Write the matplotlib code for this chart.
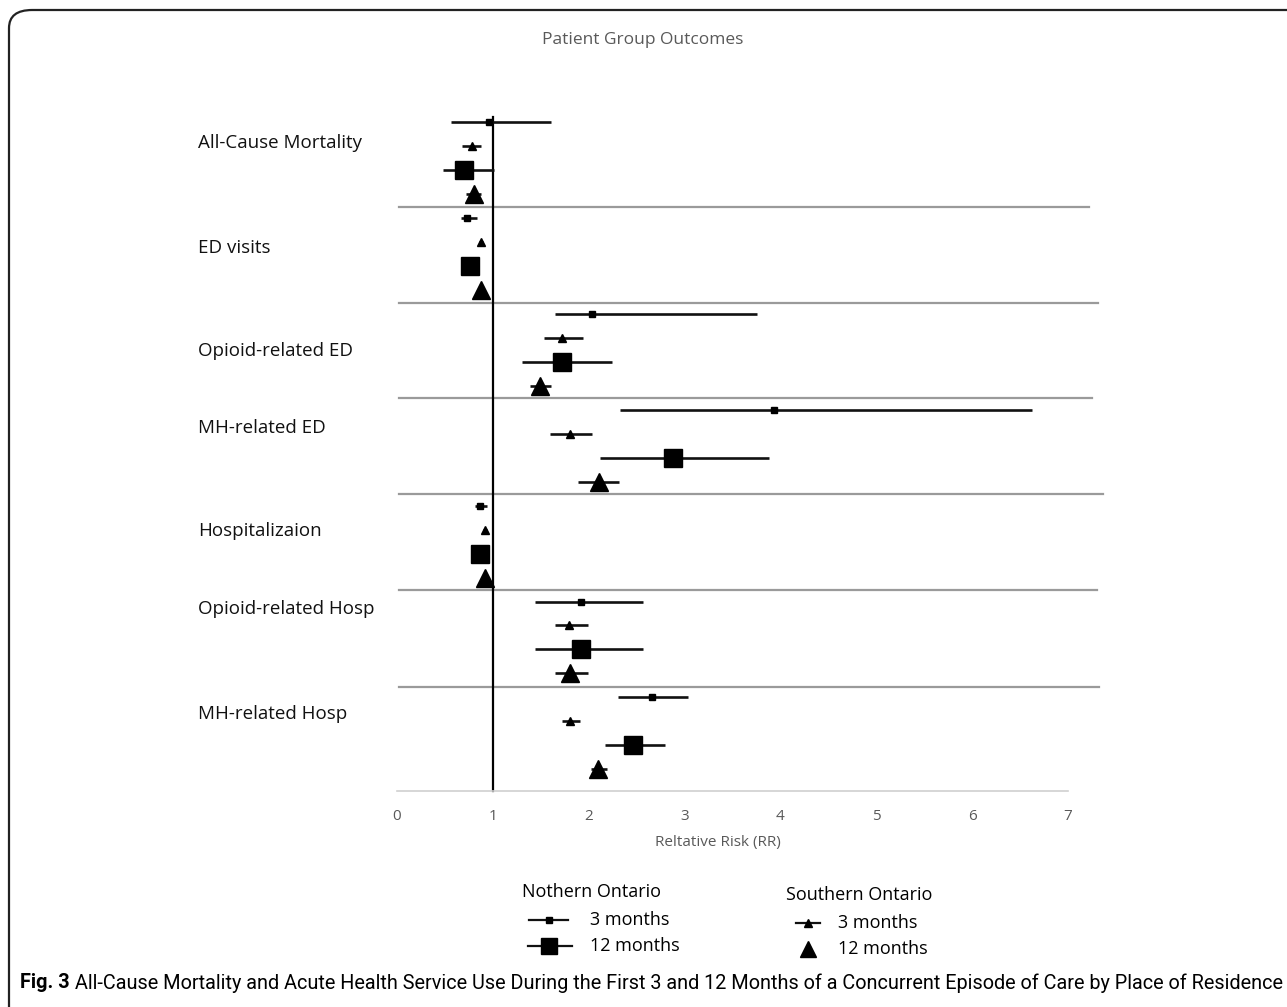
import matplotlib
matplotlib.use('Agg')
import matplotlib.pyplot as plt
import matplotlib.transforms as mtransforms
from matplotlib.patches import FancyBboxPatch
from matplotlib.lines import Line2D
from matplotlib import font_manager

groups = ['All-Cause Mortality', 'ED visits', 'Opioid-related ED', 'MH-related ED',
          'Hospitalizaion', 'Opioid-related Hosp', 'MH-related Hosp']

# relative risk and 95% CI
north_3m_rr = [0.96, 0.73, 2.03, 3.93, 0.87, 1.92, 2.66]
north_3m_lo = [0.56, 0.67, 1.65, 2.33, 0.81, 1.44, 2.31]
north_3m_hi = [1.61, 0.83, 3.76, 6.62, 0.94, 2.57, 3.04]
south_3m_rr = [0.78, 0.88, 1.72, 1.80, 0.92, 1.79, 1.80]
south_3m_lo = [0.68, 0.86, 1.53, 1.60, 0.90, 1.65, 1.72]
south_3m_hi = [0.88, 0.90, 1.94, 2.03, 0.94, 1.99, 1.91]
north_12m_rr = [0.70, 0.76, 1.72, 2.88, 0.87, 1.92, 2.46]
north_12m_lo = [0.48, 0.72, 1.30, 2.12, 0.84, 1.44, 2.17]
north_12m_hi = [1.01, 0.80, 2.24, 3.88, 0.90, 2.57, 2.80]
south_12m_rr = [0.80, 0.88, 1.49, 2.11, 0.92, 1.80, 2.10]
south_12m_lo = [0.72, 0.86, 1.39, 1.89, 0.90, 1.65, 2.02]
south_12m_hi = [0.88, 0.90, 1.61, 2.32, 0.94, 1.99, 2.19]

xticks = [0, 1, 2, 3, 4, 5, 6, 7]

names = {f.name for f in font_manager.fontManager.ttflist}
main_font = ['Open Sans', 'DejaVu Sans']
cap_font = ['Liberation Sans Narrow', 'Roboto', 'DejaVu Sans'] if 'Liberation Sans Narrow' in names \
    else ['Roboto', 'DejaVu Sans']
plt.rcParams['font.family'] = main_font

W, H = 1287, 1007
fig = plt.figure(figsize=(W / 100, H / 100), dpi=100)

# axes placement in pixels: x 0 -> 397, 7 -> 1068 ; rows top 117, axis 791
left, right, top, bottom = 397, 1068, 117, 791
ax = fig.add_axes([left / W, 1 - bottom / H, (right - left) / W, (bottom - top) / H])
ax.set_xlim(0, 7)
ax.set_ylim(27.9, -0.2)

series = [
    (north_3m_rr, north_3m_lo, north_3m_hi, 's', 5.0, 0),
    (south_3m_rr, south_3m_lo, south_3m_hi, '^', 6.0, 1),
    (north_12m_rr, north_12m_lo, north_12m_hi, 's', 12.5, 2),
    (south_12m_rr, south_12m_lo, south_12m_hi, '^', 12.5, 3),
]
for rr, lo, hi, mk, ms, off in series:
    for g in range(len(groups)):
        y = g * 4 + off
        ax.plot([lo[g], hi[g]], [y, y], color='#111111', lw=1.9, solid_capstyle='butt', zorder=3)
        ax.plot(rr[g], y, marker=mk, ms=ms, color='black', mec='black', zorder=4)

# reference line at RR = 1
ax.plot([1, 1], [-0.2, 27.9], color='black', lw=1.6, zorder=2, clip_on=False)

# separators between outcome groups
sep_rows = [3.55, 7.55, 11.5, 15.5, 19.5, 23.55]
sep_right = [7.22, 7.31, 7.25, 7.36, 7.3, 7.32]
for r, xr in zip(sep_rows, sep_right):
    ax.plot([0.02, xr], [r, r], color='#9a9a9a', lw=1.6, clip_on=False, zorder=1)

for s in ['top', 'right', 'left']:
    ax.spines[s].set_visible(False)
ax.spines['bottom'].set_color('#d0d0d0')
ax.spines['bottom'].set_linewidth(1.2)
ax.set_yticks([])
ax.set_xticks(xticks)
ax.tick_params(axis='x', length=0, pad=13, labelsize=11, labelcolor='#595959')
ax.set_xlabel('Reltative Risk (RR)', fontsize=11, color='#595959', labelpad=9)
ax.xaxis.set_label_coords((718 - left) / (right - left), -0.065)

# group labels on the left
label_rows = [0.88, 5.25, 9.56, 12.77, 17.07, 20.33, 24.69]
trans = mtransforms.blended_transform_factory(fig.transFigure, ax.transData)
for name, r in zip(groups, label_rows):
    ax.text(198 / W, r, name, transform=trans, fontsize=13.5, va='center', ha='left',
            color='#111111', clip_on=False)

fig.text(643 / W, 1 - 40 / H, 'Patient Group Outcomes', fontsize=12.5, color='#595959',
         ha='center', va='center')

# legend drawn by hand
def fy(p):
    return 1 - p / H

lfs = 13
fig.text(522 / W, fy(892), 'Nothern Ontario', fontsize=lfs, ha='left', va='center')
fig.text(786 / W, fy(895), 'Southern Ontario', fontsize=lfs, ha='left', va='center')
fig.text(590 / W, fy(920), '3 months', fontsize=lfs, ha='left', va='center')
fig.text(590 / W, fy(946), '12 months', fontsize=lfs, ha='left', va='center')
fig.text(838 / W, fy(923), '3 months', fontsize=lfs, ha='left', va='center')
fig.text(838 / W, fy(949), '12 months', fontsize=lfs, ha='left', va='center')
fig.add_artist(Line2D([529 / W, 568 / W], [fy(920), fy(920)], color='#111111', lw=1.6))
fig.add_artist(Line2D([549 / W], [fy(920)], marker='s', ms=4.5, color='black'))
fig.add_artist(Line2D([528 / W, 572 / W], [fy(946), fy(946)], color='#111111', lw=1.6))
fig.add_artist(Line2D([549 / W], [fy(946)], marker='s', ms=12, color='black'))
fig.add_artist(Line2D([796 / W, 820 / W], [fy(923), fy(923)], color='#111111', lw=1.6))
fig.add_artist(Line2D([808 / W], [fy(923)], marker='^', ms=5.5, color='black'))
fig.add_artist(Line2D([808 / W], [fy(949)], marker='^', ms=12, color='black'))

# rounded frame
frame = FancyBboxPatch((9 / W, -0.02), 1.05, 1 - 10 / H + 0.02,
                       boxstyle='round,pad=0,rounding_size=0.018', transform=fig.transFigure,
                       fill=False, ec='#222222', lw=1.6, clip_on=False)
fig.add_artist(frame)

# caption, fitted to the available width
fig.canvas.draw()
rend = fig.canvas.get_renderer()
fs = 14
cap_y = fy(983)
t1 = fig.text(20 / W, cap_y, 'Fig. 3', fontsize=fs, fontweight='bold', family=cap_font,
              ha='left', va='center')
rest = ' All-Cause Mortality and Acute Health Service Use During the First 3 and 12 Months of a Concurrent Episode of Care by Place of Residence'
t2 = fig.text(0, cap_y, rest, fontsize=fs, family=cap_font, ha='left', va='center')
for _ in range(3):
    w1 = t1.get_window_extent(rend).width
    w2 = t2.get_window_extent(rend).width
    fs = fs * (1282 - 20) / (w1 + w2)
    t1.set_fontsize(fs)
    t2.set_fontsize(fs)
w1 = t1.get_window_extent(rend).width
t2.set_x((20 + w1) / W)

fig.savefig('out.png', dpi=100)
